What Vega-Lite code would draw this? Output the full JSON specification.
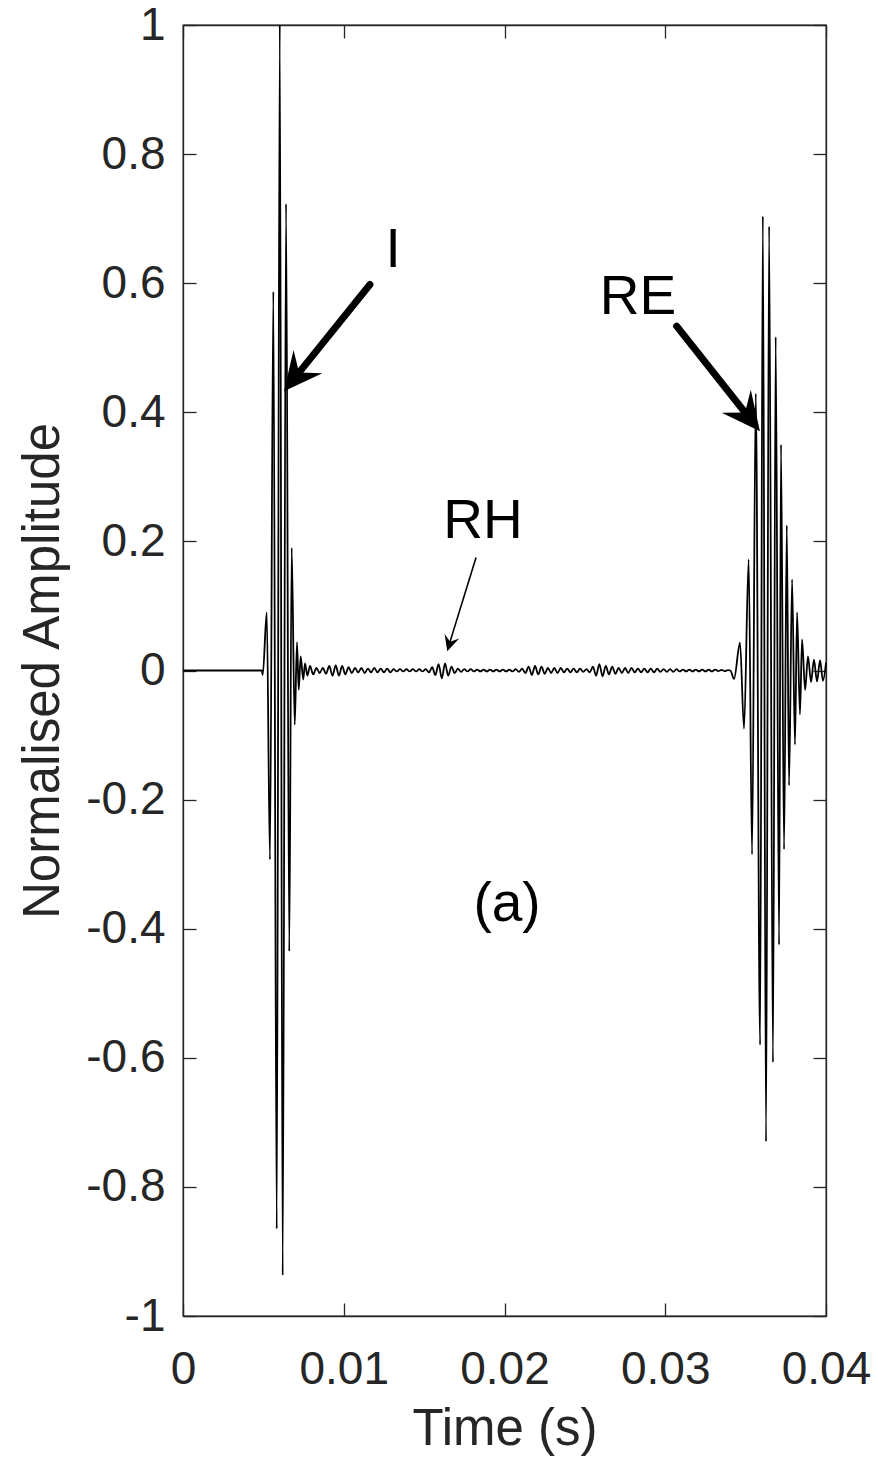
{
  "$schema": "https://vega.github.io/schema/vega-lite/v6.json",
  "width": 643,
  "height": 1291,
  "autosize": {"type": "none"},
  "padding": {"left": 183, "top": 25, "right": 52, "bottom": 147},
  "background": "white",
  "config": {
    "view": {"stroke": "#262626", "strokeWidth": 1.3},
    "font": "Liberation Sans",
    "axis": {
      "domainColor": "#262626",
      "domainWidth": 1.3,
      "tickColor": "#262626",
      "tickWidth": 1.3,
      "tickSize": -13,
      "labelColor": "#262626",
      "titleColor": "#262626",
      "labelFont": "Liberation Sans",
      "titleFont": "Liberation Sans",
      "labelFontSize": 46,
      "titleFontSize": 51,
      "titleFontWeight": "normal",
      "grid": false,
      "labelOverlap": false,
      "labelFlush": false
    }
  },
  "datasets": {
    "signal": [
      {"t": 0, "amp": 0},
      {"t": 0.0049, "amp": 0},
      {"t": 0.00496, "amp": -0.007},
      {"t": 0.00521, "amp": 0.09},
      {"t": 0.00541, "amp": -0.293},
      {"t": 0.00562, "amp": 0.587},
      {"t": 0.00583, "amp": -0.865},
      {"t": 0.00602, "amp": 1.0},
      {"t": 0.0062, "amp": -0.937},
      {"t": 0.00641, "amp": 0.723},
      {"t": 0.00661, "amp": -0.435},
      {"t": 0.00676, "amp": 0.19},
      {"t": 0.00695, "amp": -0.084},
      {"t": 0.00709, "amp": 0.044},
      {"t": 0.0072, "amp": -0.03},
      {"t": 0.00732, "amp": 0.022},
      {"t": 0.00748, "amp": -0.014},
      {"t": 0.00759, "amp": 0.011},
      {"t": 0.00774, "amp": -0.008},
      {"t": 0.0079, "amp": 0.007},
      {"t": 0.0081, "amp": -0.006},
      {"t": 0.0083, "amp": 0.004},
      {"t": 0.0085, "amp": -0.004},
      {"t": 0.0087, "amp": 0.004},
      {"t": 0.0089, "amp": -0.005},
      {"t": 0.0091, "amp": 0.007},
      {"t": 0.0093, "amp": -0.008},
      {"t": 0.0095, "amp": 0.008},
      {"t": 0.0097, "amp": -0.008},
      {"t": 0.0099, "amp": 0.007},
      {"t": 0.0101, "amp": -0.006},
      {"t": 0.0103, "amp": 0.005},
      {"t": 0.0105, "amp": -0.004},
      {"t": 0.0107, "amp": 0.004},
      {"t": 0.0109, "amp": -0.003},
      {"t": 0.0111, "amp": 0.004},
      {"t": 0.0113, "amp": -0.004},
      {"t": 0.0115, "amp": 0.003},
      {"t": 0.0117, "amp": -0.003},
      {"t": 0.0119, "amp": 0.004},
      {"t": 0.0121, "amp": -0.003},
      {"t": 0.0123, "amp": 0.003},
      {"t": 0.0125, "amp": -0.003},
      {"t": 0.0127, "amp": 0.003},
      {"t": 0.0129, "amp": -0.003},
      {"t": 0.0131, "amp": 0.002},
      {"t": 0.0133, "amp": -0.0015},
      {"t": 0.0135, "amp": 0.002},
      {"t": 0.0137, "amp": -0.0015},
      {"t": 0.0139, "amp": 0.002},
      {"t": 0.0141, "amp": -0.0015},
      {"t": 0.0143, "amp": 0.002},
      {"t": 0.0145, "amp": -0.0015},
      {"t": 0.0147, "amp": 0.002},
      {"t": 0.0149, "amp": -0.0015},
      {"t": 0.0151, "amp": 0.002},
      {"t": 0.0153, "amp": -0.003},
      {"t": 0.0155, "amp": 0.005},
      {"t": 0.0157, "amp": -0.007},
      {"t": 0.0159, "amp": 0.01},
      {"t": 0.0161, "amp": -0.012},
      {"t": 0.0163, "amp": 0.011},
      {"t": 0.0165, "amp": -0.008},
      {"t": 0.0167, "amp": 0.006},
      {"t": 0.0169, "amp": -0.004},
      {"t": 0.0171, "amp": 0.003},
      {"t": 0.0173, "amp": -0.002},
      {"t": 0.0175, "amp": 0.002},
      {"t": 0.0177, "amp": -0.0015},
      {"t": 0.0179, "amp": 0.002},
      {"t": 0.0181, "amp": -0.0015},
      {"t": 0.0183, "amp": 0.0015},
      {"t": 0.0185, "amp": -0.0015},
      {"t": 0.0187, "amp": 0.0015},
      {"t": 0.0189, "amp": -0.0015},
      {"t": 0.0191, "amp": 0.0015},
      {"t": 0.0193, "amp": -0.0015},
      {"t": 0.0195, "amp": 0.0015},
      {"t": 0.0197, "amp": -0.0015},
      {"t": 0.0199, "amp": 0.0015},
      {"t": 0.0201, "amp": -0.0015},
      {"t": 0.0203, "amp": 0.0015},
      {"t": 0.0205, "amp": -0.0015},
      {"t": 0.0207, "amp": 0.002},
      {"t": 0.0209, "amp": -0.002},
      {"t": 0.0211, "amp": 0.003},
      {"t": 0.0213, "amp": -0.004},
      {"t": 0.0215, "amp": 0.006},
      {"t": 0.0217, "amp": -0.007},
      {"t": 0.0219, "amp": 0.007},
      {"t": 0.0221, "amp": -0.006},
      {"t": 0.0223, "amp": 0.006},
      {"t": 0.0225, "amp": -0.005},
      {"t": 0.0227, "amp": 0.004},
      {"t": 0.0229, "amp": -0.004},
      {"t": 0.0231, "amp": 0.004},
      {"t": 0.0233, "amp": -0.004},
      {"t": 0.0235, "amp": 0.004},
      {"t": 0.0237, "amp": -0.003},
      {"t": 0.0239, "amp": 0.003},
      {"t": 0.0241, "amp": -0.003},
      {"t": 0.0243, "amp": 0.003},
      {"t": 0.0245, "amp": -0.003},
      {"t": 0.0247, "amp": 0.003},
      {"t": 0.0249, "amp": -0.002},
      {"t": 0.0251, "amp": 0.002},
      {"t": 0.0253, "amp": -0.003},
      {"t": 0.0255, "amp": 0.006},
      {"t": 0.0257, "amp": -0.008},
      {"t": 0.0259, "amp": 0.01},
      {"t": 0.0261, "amp": -0.009},
      {"t": 0.0263, "amp": 0.007},
      {"t": 0.0265, "amp": -0.006},
      {"t": 0.0267, "amp": 0.006},
      {"t": 0.0269, "amp": -0.005},
      {"t": 0.0271, "amp": 0.004},
      {"t": 0.0273, "amp": -0.004},
      {"t": 0.0275, "amp": 0.004},
      {"t": 0.0277, "amp": -0.004},
      {"t": 0.0279, "amp": 0.004},
      {"t": 0.0281, "amp": -0.003},
      {"t": 0.0283, "amp": 0.003},
      {"t": 0.0285, "amp": -0.003},
      {"t": 0.0287, "amp": 0.003},
      {"t": 0.0289, "amp": -0.003},
      {"t": 0.0291, "amp": 0.003},
      {"t": 0.0293, "amp": -0.003},
      {"t": 0.0295, "amp": 0.003},
      {"t": 0.0297, "amp": -0.002},
      {"t": 0.0299, "amp": 0.002},
      {"t": 0.0301, "amp": -0.002},
      {"t": 0.0303, "amp": 0.002},
      {"t": 0.0305, "amp": -0.002},
      {"t": 0.0307, "amp": 0.002},
      {"t": 0.0309, "amp": -0.0015},
      {"t": 0.0311, "amp": 0.0015},
      {"t": 0.0313, "amp": -0.0015},
      {"t": 0.0315, "amp": 0.0015},
      {"t": 0.0317, "amp": -0.0015},
      {"t": 0.0319, "amp": 0.0015},
      {"t": 0.0321, "amp": -0.0015},
      {"t": 0.0323, "amp": 0.0015},
      {"t": 0.0325, "amp": -0.0015},
      {"t": 0.0327, "amp": 0.0015},
      {"t": 0.0329, "amp": -0.0015},
      {"t": 0.0331, "amp": 0.0015},
      {"t": 0.0333, "amp": -0.001},
      {"t": 0.0335, "amp": 0.001},
      {"t": 0.0337, "amp": -0.001},
      {"t": 0.0339, "amp": 0.0005},
      {"t": 0.03405, "amp": 0},
      {"t": 0.03428, "amp": -0.013},
      {"t": 0.03465, "amp": 0.043},
      {"t": 0.0349, "amp": -0.09},
      {"t": 0.03519, "amp": 0.172},
      {"t": 0.0354, "amp": -0.285},
      {"t": 0.03563, "amp": 0.429},
      {"t": 0.0359, "amp": -0.58},
      {"t": 0.03607, "amp": 0.704},
      {"t": 0.03627, "amp": -0.73},
      {"t": 0.03646, "amp": 0.688},
      {"t": 0.0367, "amp": -0.607},
      {"t": 0.03687, "amp": 0.517},
      {"t": 0.03708, "amp": -0.425},
      {"t": 0.0372, "amp": 0.35},
      {"t": 0.03739, "amp": -0.277},
      {"t": 0.03756, "amp": 0.225},
      {"t": 0.0377, "amp": -0.178},
      {"t": 0.03789, "amp": 0.141},
      {"t": 0.03807, "amp": -0.115},
      {"t": 0.0382, "amp": 0.09},
      {"t": 0.03838, "amp": -0.068},
      {"t": 0.03851, "amp": 0.048},
      {"t": 0.0387, "amp": -0.03},
      {"t": 0.03888, "amp": 0.022},
      {"t": 0.03907, "amp": -0.018},
      {"t": 0.03925, "amp": 0.017},
      {"t": 0.03944, "amp": -0.017},
      {"t": 0.03963, "amp": 0.016},
      {"t": 0.03981, "amp": -0.016},
      {"t": 0.04, "amp": 0.012}
    ],
    "arrows": [
      {"name": "I", "t0": 0.01163, "v0": 0.598, "t1": 0.007142, "v1": 0.4592, "tipT": 0.006283, "tipV": 0.4327, "angle": 218.9},
      {"name": "RE", "t0": 0.03071, "v0": 0.5334, "t1": 0.03504, "v1": 0.3974, "tipT": 0.03589, "tipV": 0.3707, "angle": 141.6},
      {"name": "RH", "t0": 0.01823, "v0": 0.175, "t1": 0.01659, "v1": 0.0428, "tipT": 0.01644, "tipV": 0.0299, "angle": 197.2}
    ],
    "labels": [
      {"text": "I", "t": 0.01307, "v": 0.651},
      {"text": "RE", "t": 0.0283, "v": 0.579},
      {"text": "RH", "t": 0.01866, "v": 0.232},
      {"text": "(a)", "t": 0.02016, "v": -0.3625}
    ]
  },
  "layer": [
    {
      "data": {"name": "signal"},
      "mark": {"type": "line", "color": "black", "strokeWidth": 1.8, "interpolate": "monotone", "strokeJoin": "round"},
      "encoding": {
        "x": {
          "field": "t", "type": "quantitative",
          "scale": {"domain": [0, 0.04], "nice": false, "zero": false},
          "axis": {"orient": "bottom", "values": [0, 0.01, 0.02, 0.03, 0.04], "format": "~g", "labelPadding": 44, "title": "Time (s)", "titlePadding": 12}
        },
        "y": {
          "field": "amp", "type": "quantitative",
          "scale": {"domain": [-1, 1], "nice": false, "zero": false},
          "axis": {"orient": "left", "values": [-1, -0.8, -0.6, -0.4, -0.2, 0, 0.2, 0.4, 0.6, 0.8, 1], "labelExpr": "toString(datum.value)", "labelPadding": 31, "labelBaseline": "middle", "title": "Normalised Amplitude", "titlePadding": 16}
        }
      }
    },
    {
      "data": {"name": "signal"},
      "mark": {"type": "line", "opacity": 0},
      "encoding": {
        "x": {
          "field": "t", "type": "quantitative",
          "scale": {"domain": [0, 0.04], "nice": false, "zero": false},
          "axis": {"orient": "top", "values": [0, 0.01, 0.02, 0.03, 0.04], "labels": false, "title": null}
        },
        "y": {
          "field": "amp", "type": "quantitative",
          "scale": {"domain": [-1, 1], "nice": false, "zero": false},
          "axis": {"orient": "right", "values": [-1, -0.8, -0.6, -0.4, -0.2, 0, 0.2, 0.4, 0.6, 0.8, 1], "labels": false, "title": null}
        }
      }
    },
    {
      "data": {"name": "arrows"},
      "transform": [{"filter": "datum.name != 'RH'"}],
      "mark": {"type": "rule", "color": "black", "strokeWidth": 7, "strokeCap": "round"},
      "encoding": {
        "x": {"field": "t0", "type": "quantitative", "scale": {"domain": [0, 0.04], "nice": false, "zero": false}, "axis": null},
        "y": {"field": "v0", "type": "quantitative", "scale": {"domain": [-1, 1], "nice": false, "zero": false}, "axis": null},
        "x2": {"field": "t1"},
        "y2": {"field": "v1"}
      }
    },
    {
      "data": {"name": "arrows"},
      "transform": [{"filter": "datum.name == 'RH'"}],
      "mark": {"type": "rule", "color": "black", "strokeWidth": 1.6},
      "encoding": {
        "x": {"field": "t0", "type": "quantitative", "scale": {"domain": [0, 0.04], "nice": false, "zero": false}, "axis": null},
        "y": {"field": "v0", "type": "quantitative", "scale": {"domain": [-1, 1], "nice": false, "zero": false}, "axis": null},
        "x2": {"field": "t1"},
        "y2": {"field": "v1"}
      }
    },
    {
      "data": {"name": "arrows"},
      "transform": [{"filter": "datum.name != 'RH'"}],
      "mark": {"type": "point", "shape": "M0,0L0.85,1.75L0,1.1L-0.85,1.75Z", "size": 1900, "filled": true, "color": "black", "opacity": 1, "strokeWidth": 0},
      "encoding": {
        "x": {"field": "tipT", "type": "quantitative", "scale": {"domain": [0, 0.04], "nice": false, "zero": false}, "axis": null},
        "y": {"field": "tipV", "type": "quantitative", "scale": {"domain": [-1, 1], "nice": false, "zero": false}, "axis": null},
        "angle": {"field": "angle", "type": "quantitative", "scale": null}
      }
    },
    {
      "data": {"name": "arrows"},
      "transform": [{"filter": "datum.name == 'RH'"}],
      "mark": {"type": "point", "shape": "M0,0L0.85,1.75L0,1.1L-0.85,1.75Z", "size": 320, "filled": true, "color": "black", "opacity": 1, "strokeWidth": 0},
      "encoding": {
        "x": {"field": "tipT", "type": "quantitative", "scale": {"domain": [0, 0.04], "nice": false, "zero": false}, "axis": null},
        "y": {"field": "tipV", "type": "quantitative", "scale": {"domain": [-1, 1], "nice": false, "zero": false}, "axis": null},
        "angle": {"field": "angle", "type": "quantitative", "scale": null}
      }
    },
    {
      "data": {"name": "labels"},
      "mark": {"type": "text", "font": "Liberation Sans", "fontSize": 55, "color": "black", "align": "center", "baseline": "middle"},
      "encoding": {
        "x": {"field": "t", "type": "quantitative", "scale": {"domain": [0, 0.04], "nice": false, "zero": false}, "axis": null},
        "y": {"field": "v", "type": "quantitative", "scale": {"domain": [-1, 1], "nice": false, "zero": false}, "axis": null},
        "text": {"field": "text"}
      }
    }
  ],
  "resolve": {"axis": {"x": "independent", "y": "independent"}}
}
